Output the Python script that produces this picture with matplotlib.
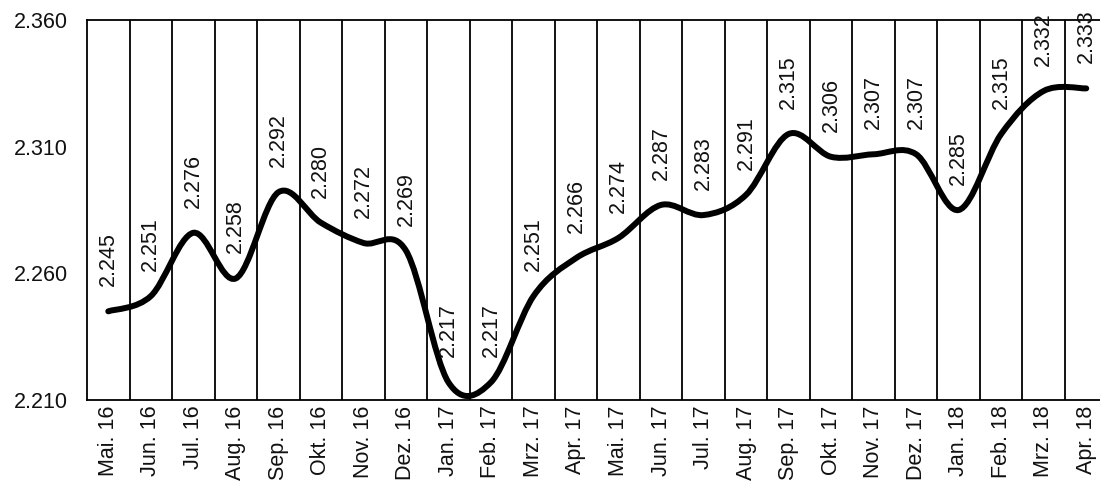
import matplotlib
matplotlib.use('Agg')
import matplotlib.pyplot as plt
import numpy as np
from matplotlib.path import Path
from matplotlib.patches import PathPatch

plt.rcParams['font.family'] = ['Liberation Sans', 'DejaVu Sans']

months = ['Mai. 16', 'Jun. 16', 'Jul. 16', 'Aug. 16', 'Sep. 16', 'Okt. 16',
          'Nov. 16', 'Dez. 16', 'Jan. 17', 'Feb. 17', 'Mrz. 17', 'Apr. 17',
          'Mai. 17', 'Jun. 17', 'Jul. 17', 'Aug. 17', 'Sep. 17', 'Okt. 17',
          'Nov. 17', 'Dez. 17', 'Jan. 18', 'Feb. 18', 'Mrz. 18', 'Apr. 18']
values = [2.245, 2.251, 2.276, 2.258, 2.292, 2.280, 2.272, 2.269, 2.217,
          2.217, 2.251, 2.266, 2.274, 2.287, 2.283, 2.291, 2.315, 2.306,
          2.307, 2.307, 2.285, 2.315, 2.332, 2.333]
yticks = [2.210, 2.260, 2.310, 2.360]

fig = plt.figure(figsize=(11, 4.88), dpi=100)
ax = fig.add_axes([87 / 1100, 1 - 400 / 488, 1020.5 / 1100, 380 / 488])

x = np.arange(len(values))
y = np.array(values)

# smoothed line like Excel (Bezier with Catmull-Rom style tangents)
verts = [(x[0], y[0])]
codes = [Path.MOVETO]
n = len(x)
for i in range(n - 1):
    p0 = np.array([x[max(i - 1, 0)], y[max(i - 1, 0)]])
    p1 = np.array([x[i], y[i]])
    p2 = np.array([x[i + 1], y[i + 1]])
    p3 = np.array([x[min(i + 2, n - 1)], y[min(i + 2, n - 1)]])
    c1 = p1 + (p2 - p0) / 6
    c2 = p2 - (p3 - p1) / 6
    verts += [tuple(c1), tuple(c2), tuple(p2)]
    codes += [Path.CURVE4] * 3
ax.add_patch(PathPatch(Path(verts, codes), facecolor='none', edgecolor='black',
                       lw=4.3, capstyle='round', joinstyle='round', zorder=3))

for b in np.arange(0.5, n - 1, 1):
    ax.axvline(b, color='black', lw=1.3, zorder=1)

for xi, v in zip(x, values):
    ax.annotate(f'{v:.3f}', (xi, v), xytext=(0, 18), textcoords='offset points',
                rotation=90, ha='center', va='bottom', fontsize=15.5, color='#111111')

ax.set_xlim(-0.5, n - 0.5)
ax.set_ylim(2.210, 2.360)
ax.set_yticks(yticks)
ax.set_yticklabels([f'{t:.3f}' for t in yticks])
ax.set_xticks(x)
ax.set_xticklabels(months, rotation=90)
ax.tick_params(axis='both', length=0, labelsize=15.5, colors='#111111')
ax.tick_params(axis='y', pad=14)
ax.tick_params(axis='x', pad=4)
for s in ['left', 'bottom', 'top']:
    ax.spines[s].set_linewidth(1.3)
    ax.spines[s].set_color('black')
ax.spines['right'].set_visible(False)

fig.savefig('out.png', dpi=100)
